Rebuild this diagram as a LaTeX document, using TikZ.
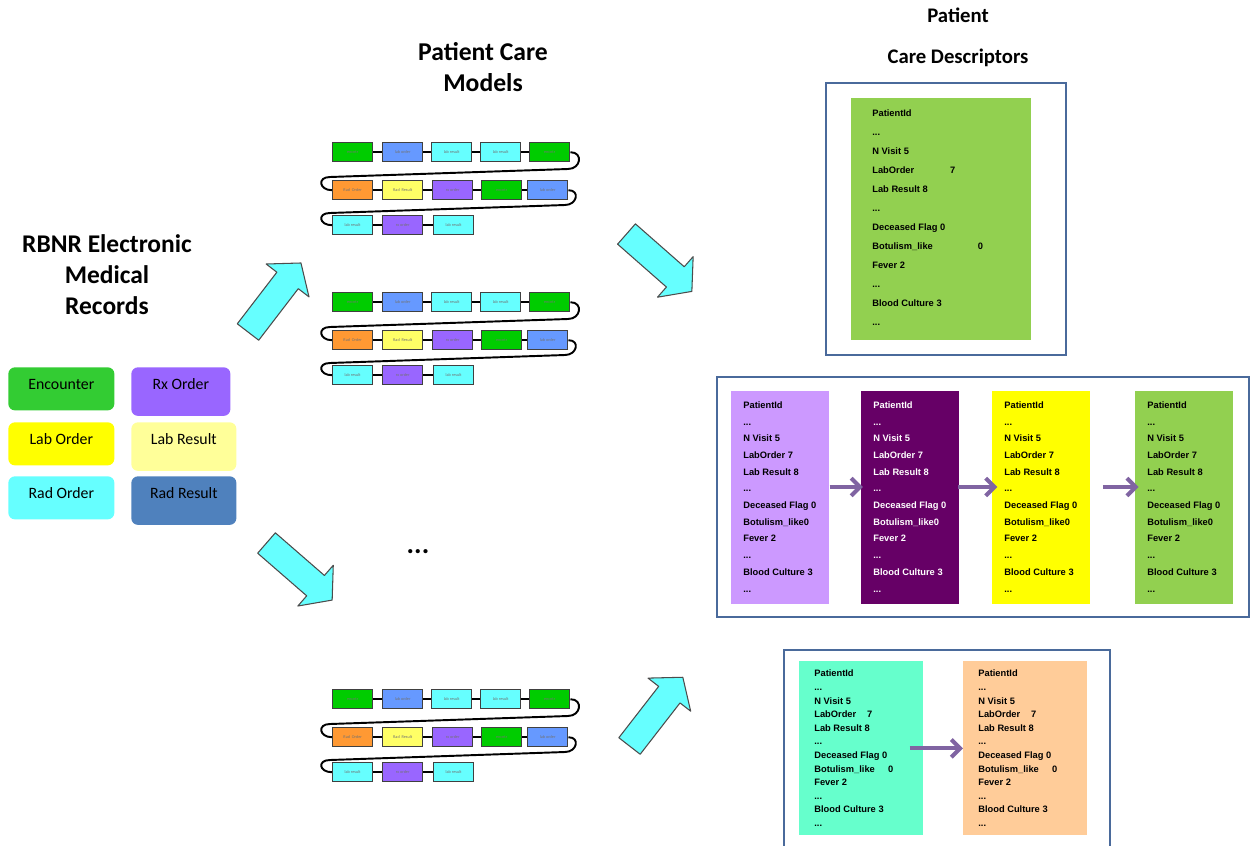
\documentclass[tikz,border=0pt]{standalone}
\usepackage{fontspec}
\setmainfont{Carlito}
\newfontfamily\descfont{Liberation Sans}
\usetikzlibrary{arrows.meta,calc}

\definecolor{legEnc}{HTML}{33CC33}
\definecolor{legRx}{HTML}{9966FF}
\definecolor{legLabO}{HTML}{FFFF00}
\definecolor{legLabR}{HTML}{FFFF99}
\definecolor{legRadO}{HTML}{66FFFF}
\definecolor{legRadR}{HTML}{4F81BD}
\definecolor{cgreen}{HTML}{00CC00}
\definecolor{cblue}{HTML}{6699FF}
\definecolor{ccyan}{HTML}{66FFFF}
\definecolor{corange}{HTML}{FF9933}
\definecolor{cyellow}{HTML}{FFFF66}
\definecolor{cpurple}{HTML}{9966FF}
\definecolor{dgreen}{HTML}{92D050}
\definecolor{dlav}{HTML}{CC99FF}
\definecolor{dplum}{HTML}{660066}
\definecolor{dyellow}{HTML}{FFFF00}
\definecolor{dteal}{HTML}{66FFCC}
\definecolor{dpeach}{HTML}{FFCC99}
\definecolor{framecol}{HTML}{4A6A9B}
\definecolor{flowpurple}{HTML}{8064A2}
\definecolor{bigcyan}{HTML}{66FFFF}

% descriptor contents: #1 = LabOrder line, #2 = Botulism line
\newcommand{\descrlines}[2]{PatientId\\...\\N Visit 5\\#1\\Lab Result 8\\...\\Deceased Flag 0\\#2\\Fever 2\\...\\Blood Culture 3\\...}

% one care model: three rows of linked event boxes
\newcommand{\carechain}{%
  \node[chainbox, fill=cgreen]  (a1) at (0,0)   {encntr};
  \node[chainbox, fill=cblue]   (a2) at (50,0)  {lab order};
  \node[chainbox, fill=ccyan]   (a3) at (99,0)  {lab result};
  \node[chainbox, fill=ccyan]   (a4) at (148,0) {lab result};
  \node[chainbox, fill=cgreen]  (a5) at (197,0) {encntr};
  \node[chainbox, fill=corange] (b1) at (0,-38)   {Rad \ Order};
  \node[chainbox, fill=cyellow] (b2) at (50,-38)  {Rad \ Result};
  \node[chainbox, fill=cpurple] (b3) at (100,-38) {rx order};
  \node[chainbox, fill=cgreen]  (b4) at (149,-38) {encntr};
  \node[chainbox, fill=cblue]   (b5) at (195,-38) {lab order};
  \node[chainbox, fill=ccyan]   (c1) at (0,-73)   {lab result};
  \node[chainbox, fill=cpurple] (c2) at (50,-73)  {rx order};
  \node[chainbox, fill=ccyan]   (c3) at (101,-73) {lab result};
  \draw[link] (a1) -- (a2); \draw[link] (a2) -- (a3);
  \draw[link] (a3) -- (a4); \draw[link] (a4) -- (a5);
  \draw[link] (b1) -- (b2); \draw[link] (b2) -- (b3);
  \draw[link] (b3) -- (b4); \draw[link] (b4) -- (b5);
  \draw[link] (c1) -- (c2); \draw[link] (c2) -- (c3);
  \coordinate (u1) at (236,-27);
  \coordinate (u2) at (-2,-35);
  \coordinate (u3) at (233,-63);
  \coordinate (u4) at (-2,-71);
  \draw[link] (a5.east) .. controls +(13,0) and +(13,0) .. (u1) -- (u2)
              .. controls +(-13,0) and +(-13,0) .. (b1.west);
  \draw[link] (b5.east) .. controls +(12,0) and +(12,0) .. (u3) -- (u4)
              .. controls +(-13,0) and +(-13,0) .. (c1.west);
}

\begin{document}
\begin{tikzpicture}[x=0.02cm, y=0.02cm,
  titleA/.style={font=\bfseries\fontsize{14.6}{17.6}\selectfont, align=center, inner sep=0},
  titleB/.style={font=\bfseries\fontsize{11.8}{23.2}\selectfont, align=center, inner sep=0},
  titleC/.style={font=\bfseries\fontsize{14.5}{17.6}\selectfont, align=center, inner sep=0},
  legend/.style={rounded corners=0.13cm, anchor=north west, inner sep=0,
    minimum width=2.12cm, minimum height=0.86cm,
    font=\fontsize{9}{10}\selectfont, text height=5pt, text depth=4.4pt},
  legendtall/.style={legend, minimum height=0.97cm, text depth=7.5pt},
  chainbox/.style={draw=black!75, line width=0.8pt, anchor=north west, inner sep=0,
    minimum width=0.8cm, minimum height=0.38cm,
    font=\fontsize{2.4}{3}\selectfont, text=black!55},
  link/.style={draw=black, line width=1.1pt},
  frame/.style={draw=framecol, line width=1.1pt},
  descbox/.style={anchor=north west, inner sep=0},
  desctext/.style={anchor=west, inner sep=0, align=left, text=black},
  descA/.style={desctext, font=\descfont\bfseries\fontsize{5.3}{10.8}\selectfont},
  descB/.style={desctext, font=\descfont\bfseries\fontsize{5.3}{9.5}\selectfont},
  descC/.style={desctext, font=\descfont\bfseries\fontsize{5.3}{7.75}\selectfont},
  flow/.style={draw=flowpurple, line width=2.3pt, -{Straight Barb[length=5pt,width=10pt]}},
  bigarrow/.pic={\draw[fill=bigcyan, draw=black!70, line width=0.6pt, line join=round]
    (0,-13.5) -- (65,-13.5) -- (65,-27) -- (87,0) -- (65,27) -- (65,13.5) -- (0,13.5) -- cycle;}
]
\useasboundingbox (0,0) rectangle (1250,-845);
\clip (0,0) rectangle (1250,-845);

% headings
\node[titleA] (pcm) at (483,-67.5) {Patient Care\\Models};
\node[titleB] (pcd) at (958,-37.5) {Patient\\Care Descriptors};
\node[titleC] (emr) at (107,-275) {RBNR Electronic\\Medical\\Records};

% record type legend
\node[legend, fill=legEnc]      (enc)  at (8,-367)   {Encounter};
\node[legendtall, fill=legRx, minimum width=1.98cm] (rx) at (131,-367) {Rx Order};
\node[legend, fill=legLabO]     (lo)   at (8,-422)   {Lab Order};
\node[legendtall, fill=legLabR, minimum width=2.1cm] (lr) at (131,-422) {Lab Result};
\node[legend, fill=legRadO]     (ro)   at (8,-476)   {Rad Order};
\node[legendtall, fill=legRadR, minimum width=2.1cm] (rr) at (131,-476) {Rad Result};

% care models
\begin{scope}[shift={(332,-142)}, name prefix=m1-] \carechain \end{scope}
\begin{scope}[shift={(332,-292)}, name prefix=m2-] \carechain \end{scope}
\begin{scope}[shift={(332,-689)}, name prefix=m3-] \carechain \end{scope}
\node[font=\bfseries\fontsize{16}{18}\selectfont, inner sep=0, anchor=base] (more) at (418,-553) {...};

% block arrows
\pic[rotate=52.5]  at (248,-332)   {bigarrow};
\pic[rotate=-41.3] at (626.5,-234) {bigarrow};
\pic[rotate=-41]   at (266.5,-543) {bigarrow};
\pic[rotate=52.2]  at (629.5,-746) {bigarrow};

% single descriptor
\draw[frame] (826,-83) rectangle (1066,-355);
\node[descbox, fill=dgreen, minimum width=3.6cm, minimum height=4.84cm] (d1) at (851,-98) {};
\node[descA] (d1t) at ($(d1.west)+(21,2)$)
  {\descrlines{\makebox[44.2pt][l]{LabOrder}7}{\makebox[60.1pt][l]{Botulism\_like}0}};

% descriptor sequence
\draw[frame] (717,-377) rectangle (1249,-617);
\node[descbox, fill=dlav,    minimum width=1.96cm, minimum height=4.26cm] (s1) at (731,-391) {};
\node[descbox, fill=dplum,   minimum width=1.96cm, minimum height=4.26cm] (s2) at (861,-391) {};
\node[descbox, fill=dyellow, minimum width=1.96cm, minimum height=4.26cm] (s3) at (992,-391) {};
\node[descbox, fill=dgreen,  minimum width=1.96cm, minimum height=4.26cm] (s4) at (1135,-391) {};
\node[descB] (s1t) at ($(s1.west)+(12,1)$) {\descrlines{LabOrder 7}{Botulism\_like0}};
\node[descB, text=white] (s2t) at ($(s2.west)+(12,1)$) {\descrlines{LabOrder 7}{Botulism\_like0}};
\node[descB] (s3t) at ($(s3.west)+(12,1)$) {\descrlines{LabOrder 7}{Botulism\_like0}};
\node[descB] (s4t) at ($(s4.west)+(12,1)$) {\descrlines{LabOrder 7}{Botulism\_like0}};
\coordinate (flowy) at (0,-487);
\draw[flow] (s1.east |- flowy) -- ([xshift=1]s2.west |- flowy);
\draw[flow] ([xshift=-1]s2.east |- flowy) -- ([xshift=3]s3.west |- flowy);
\draw[flow] ([xshift=7]s3.east |- flowy) -- ([xshift=2]s4.west |- flowy);

% descriptor pair
\draw[frame] (784,-650) rectangle (1110,-900);
\node[descbox, fill=dteal,  minimum width=2.48cm, minimum height=3.48cm] (p1) at (799,-661) {};
\node[descbox, fill=dpeach, minimum width=2.48cm, minimum height=3.48cm] (p2) at (963,-661) {};
\node[descC] (p1t) at ($(p1.west)+(15,0)$)
  {\descrlines{\makebox[30pt][l]{LabOrder}7}{\makebox[42pt][l]{Botulism\_like}0}};
\node[descC] (p2t) at ($(p2.west)+(15,0)$)
  {\descrlines{\makebox[30pt][l]{LabOrder}7}{\makebox[42pt][l]{Botulism\_like}0}};
\draw[flow] ([xshift=-8]p1.east) -- (p2.west);
\end{tikzpicture}
\end{document}
